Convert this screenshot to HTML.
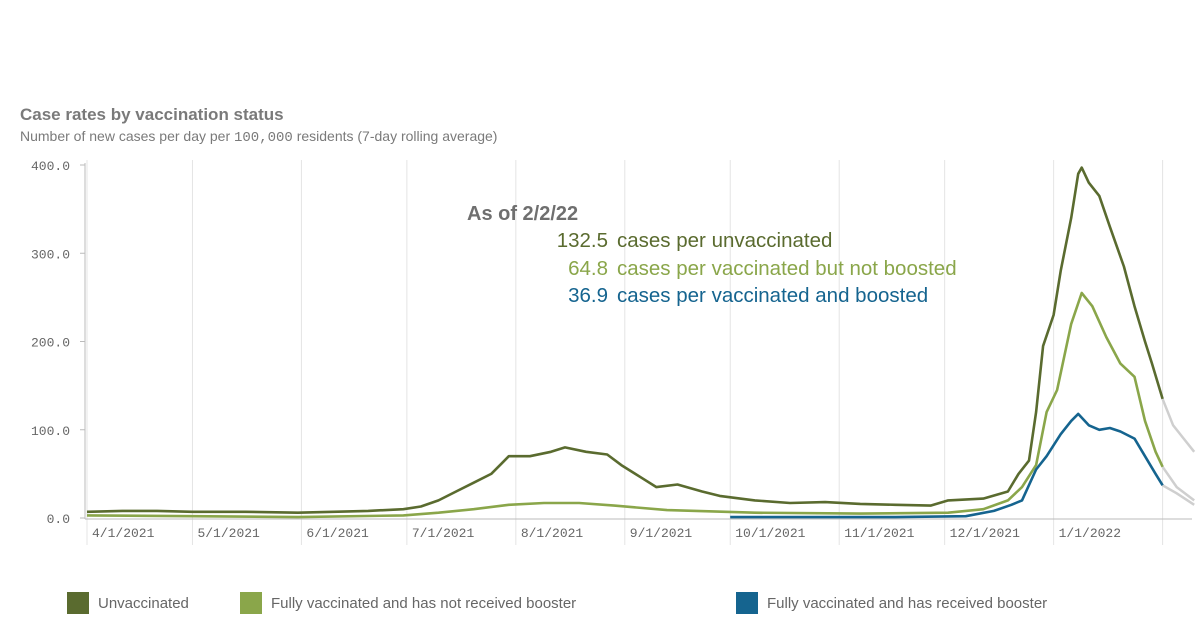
<!DOCTYPE html>
<html><head><meta charset="utf-8"><style>
body{margin:0;background:#fff;width:1200px;height:644px;overflow:hidden;font-family:"Liberation Sans",sans-serif}
svg{position:absolute;left:0;top:0}
</style></head><body>
<svg width="1200" height="644">
<text x="20" y="120" font-size="17" font-weight="bold" fill="#7a7a7a">Case rates by vaccination status</text>
<text x="20" y="141" font-size="14" fill="#7a7a7a">Number of new cases per day per <tspan font-family="Liberation Mono">100,000</tspan> residents (7-day rolling average)</text>
<g id="grid"></g><g id="axes"></g><g id="lines"></g>
<g font-size="20.5">
<text x="467" y="220" font-weight="bold" fill="#6f6f6f" font-size="20">As of 2/2/22</text>
<text x="608" y="247" text-anchor="end" fill="#5a6b2f">132.5</text>
<text x="617" y="247" fill="#5a6b2f">cases per unvaccinated</text>
<text x="608" y="275" text-anchor="end" fill="#8aa64a">64.8</text>
<text x="617" y="275" fill="#8aa64a">cases per vaccinated but not boosted</text>
<text x="608" y="302" text-anchor="end" fill="#15648f">36.9</text>
<text x="617" y="302" fill="#15648f">cases per vaccinated and boosted</text>
</g>
<g font-size="15" fill="#666">
<rect x="67" y="592" width="22" height="22" fill="#5a6b2f"/>
<text x="98" y="608">Unvaccinated</text>
<rect x="240" y="592" width="22" height="22" fill="#8aa64a"/>
<text x="271" y="608">Fully vaccinated and has not received booster</text>
<rect x="736" y="592" width="22" height="22" fill="#15648f"/>
<text x="767" y="608">Fully vaccinated and has received booster</text>
</g>
</svg>
<script>
// days since 4/1/2021
const unvaxDays=[0,10,20,30,45,60,70,80,90,95,100,105,110,115,118,120,126,132,136,142,148,152,158,162,168,175,180,190,200,210,220,230,240,245,255,262,265,268,270,272,275,277,280,282,283,285,288,291,295,298,301,303,306,309,312,315];
const unvaxVals=[7,8,8,7,7,6,7,8,10,13,20,30,40,50,62,70,70,75,80,75,72,60,45,35,38,30,25,20,17,18,16,15,14,20,22,30,50,65,120,195,230,280,340,390,397,380,365,330,285,240,200,175,135,105,90,75];
const vaxDays=[0,30,60,90,100,110,120,130,140,150,165,190,220,245,255,262,266,270,273,276,280,283,286,290,294,298,301,304,306,310,315];
const vaxVals=[3,2,1,3,6,10,15,17,17,14,9,6,5,6,10,20,35,60,120,145,220,255,240,205,175,160,110,75,58,35,20];
const boostDays=[183,200,230,250,258,263,266,270,273,277,280,282,285,288,291,294,298,301,304,306,310,315];
const boostVals=[1,1,1,2,8,15,20,55,70,95,110,118,105,100,102,98,90,70,50,37,28,15];
const yTicks=[0,100,200,300,400];
const yTickLabels=["0.0","100.0","200.0","300.0","400.0"];
const xTickDays=[0,30,61,91,122,153,183,214,244,275,306];
const xTickLabels=["4/1/2021","5/1/2021","6/1/2021","7/1/2021","8/1/2021","9/1/2021","10/1/2021","11/1/2021","12/1/2021","1/1/2022",""];
const completeThrough=306;
const NS="http://www.w3.org/2000/svg";
const x=d=>87+d*3.515, y=v=>518-v*0.8825;
function mk(t,a,p){const e=document.createElementNS(NS,t);for(const k in a)e.setAttribute(k,a[k]);p.appendChild(e);return e;}
const grid=document.getElementById('grid'),axes=document.getElementById('axes'),lines=document.getElementById('lines');
xTickDays.forEach((d,i)=>{
  const l=mk('line',{x1:x(d),x2:x(d),y1:160,y2:545,stroke:'#e4e4e4','stroke-width':1},grid);
  
  
  if(xTickLabels[i]){const t=mk('text',{x:x(d)+5,y:537,'font-size':13,'font-family':'Liberation Mono',fill:'#666'},axes);t.textContent=xTickLabels[i];
  
  }
});
yTicks.forEach((v,i)=>{
  const t=mk('text',{x:70,y:y(v)+5,'text-anchor':'end','font-size':13,'font-family':'Liberation Mono',fill:'#666'},axes);t.textContent=yTickLabels[i];
  
  
  const k=mk('line',{x1:80,x2:85,y1:y(v),y2:y(v),stroke:'#bbb'},axes);
  
  
});
const ya=mk('line',{x1:85,x2:85,y1:163,y2:519,stroke:'#bbb'},axes);


const xa=mk('line',{x1:85,x2:1192,y1:519,y2:519,stroke:'#bbb'},axes);


function series(days,vals,color,name){
  const a=[],b=[];
  days.forEach((d,i)=>{const p=x(d).toFixed(1)+','+y(vals[i]).toFixed(1);if(d<=completeThrough)a.push(p);if(d>=completeThrough)b.push(p);});
  const g=mk('polyline',{points:b.join(' '),fill:'none',stroke:'#cfcfcf','stroke-width':2.5},lines);
  
  
  const l=mk('polyline',{points:a.join(' '),fill:'none',stroke:color,'stroke-width':2.6,'stroke-linejoin':'round'},lines);
  
  
}
series(unvaxDays,unvaxVals,'#5a6b2f','unvaccinated');
series(vaxDays,vaxVals,'#8aa64a','not-boosted');
series(boostDays,boostVals,'#15648f','boosted');
</script>
</body></html>
